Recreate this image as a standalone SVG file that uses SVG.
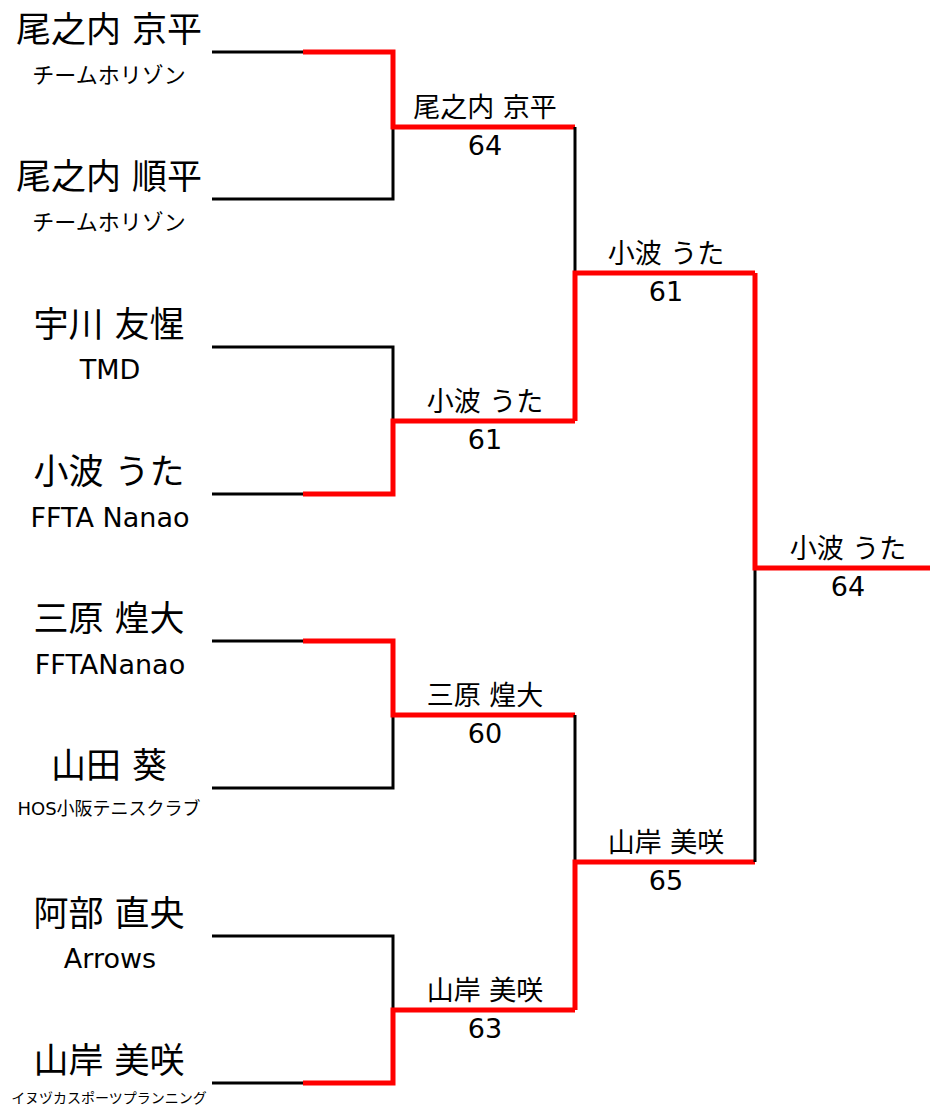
<svg xmlns="http://www.w3.org/2000/svg" width="930" height="1107" viewBox="0 0 930 1107">
<style>
text{font-family:"DejaVu Sans","Noto Sans CJK JP",sans-serif;fill:#000;text-anchor:middle}
.nm{font-size:35px}
.tm{font-size:22px}
.la{font-size:27px}
.tm2{font-size:18px}
.tm3{font-size:14px}
.lb{font-size:27px}
.bk{fill:none;stroke:#000;stroke-width:3}
.rd{fill:none;stroke:#ff0000;stroke-width:5}
</style>
<rect width="930" height="1107" fill="#fff"/>
<g id="connectors">
<path class="bk" d="M212,52H303M212,199H393V127"/>
<path class="rd" d="M303,52H393V127H575"/>
<path class="bk" d="M212,347H393V421M212,494H303"/>
<path class="rd" d="M303,494H393V421H575"/>
<path class="bk" d="M575,127V273"/>
<path class="rd" d="M575,421V273H755"/>
<path class="bk" d="M212,641H303M212,788H393V715"/>
<path class="rd" d="M303,641H393V715H575"/>
<path class="bk" d="M212,936H393V1010M212,1083H303"/>
<path class="rd" d="M303,1083H393V1010H575"/>
<path class="bk" d="M575,715V862"/>
<path class="rd" d="M575,1010V862H755"/>
<path class="bk" d="M755,568V862"/>
<path class="rd" d="M755,273V568H930"/>
</g>
<g id="p1"><text class="nm" x="109" y="42">尾之内 京平</text><text class="tm" x="109" y="83">チームホリゾン</text></g>
<g id="p2"><text class="nm" x="109" y="189">尾之内 順平</text><text class="tm" x="109" y="230">チームホリゾン</text></g>
<g id="p3"><text class="nm" x="109" y="337">宇川 友惺</text><text class="la" x="110" y="379">TMD</text></g>
<g id="p4"><text class="nm" x="109" y="484">小波 うた</text><text class="la" x="110" y="527">FFTA Nanao</text></g>
<g id="p5"><text class="nm" x="109" y="631">三原 煌大</text><text class="la" x="110" y="674">FFTANanao</text></g>
<g id="p6"><text class="nm" x="109" y="778">山田 葵</text><text class="tm2" x="109" y="815">HOS小阪テニスクラブ</text></g>
<g id="p7"><text class="nm" x="109" y="926">阿部 直央</text><text class="la" x="110" y="968">Arrows</text></g>
<g id="p8"><text class="nm" x="109" y="1073">山岸 美咲</text><text class="tm3" x="109" y="1103">イヌヅカスポーツプランニング</text></g>
<g id="r1"><text class="lb" x="485" y="117">尾之内 京平</text><text class="lb" x="485" y="155">64</text></g>
<g id="r2"><text class="lb" x="485" y="411">小波 うた</text><text class="lb" x="485" y="449">61</text></g>
<g id="r3"><text class="lb" x="485" y="705">三原 煌大</text><text class="lb" x="485" y="743">60</text></g>
<g id="r4"><text class="lb" x="485" y="1000">山岸 美咲</text><text class="lb" x="485" y="1038">63</text></g>
<g id="s1"><text class="lb" x="666" y="263">小波 うた</text><text class="lb" x="666" y="301">61</text></g>
<g id="s2"><text class="lb" x="666" y="852">山岸 美咲</text><text class="lb" x="666" y="890">65</text></g>
<g id="f"><text class="lb" x="848" y="558">小波 うた</text><text class="lb" x="848" y="596">64</text></g>
</svg>
